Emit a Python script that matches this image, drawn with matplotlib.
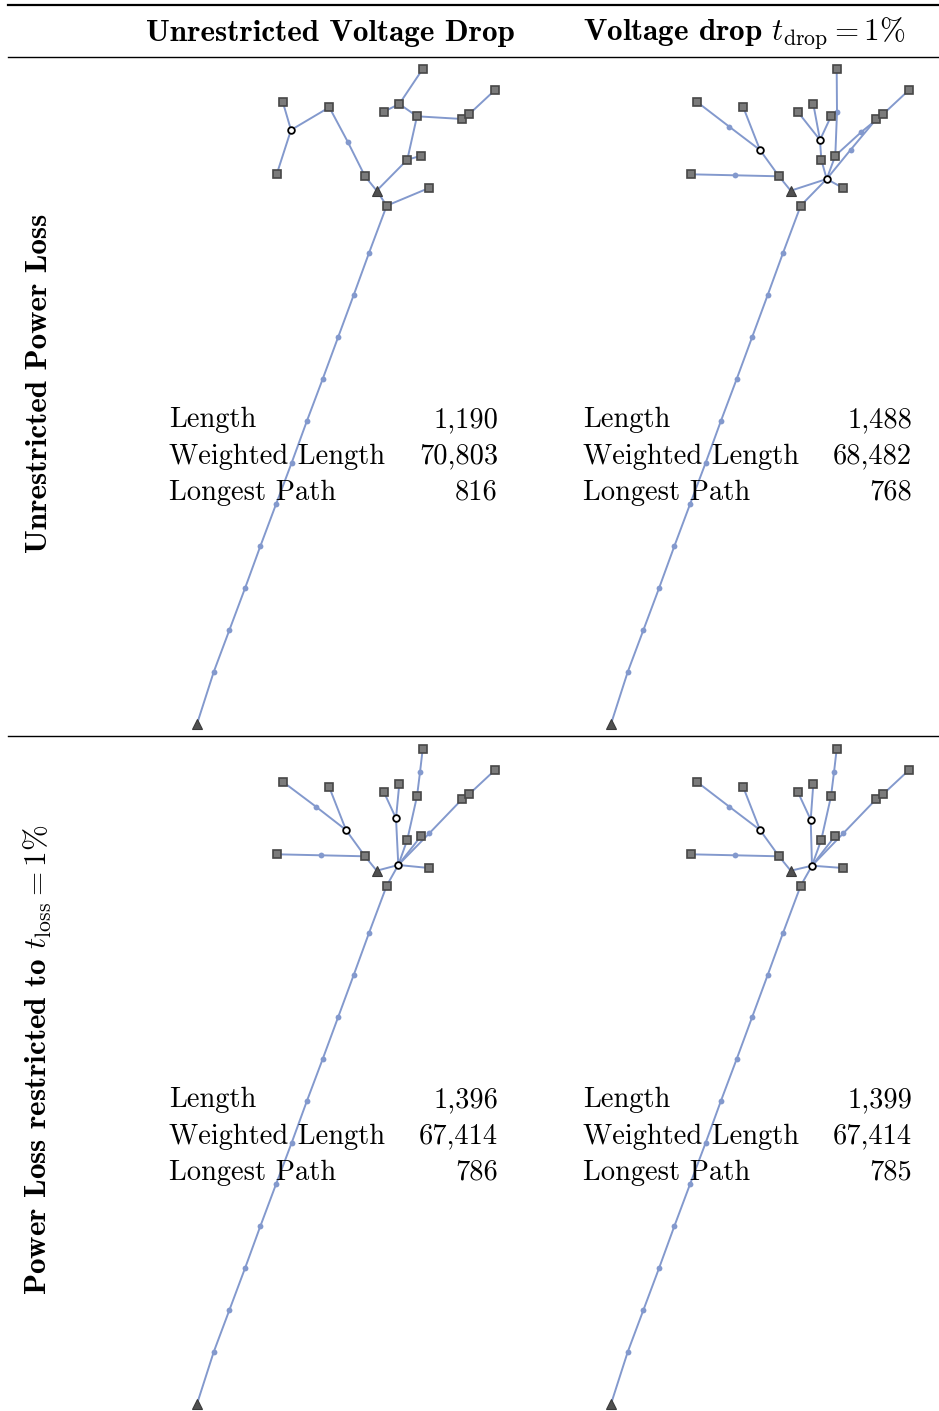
import matplotlib.pyplot as plt

plt.rcParams['mathtext.fontset'] = 'cm'

# consumer positions (map units, feeder root at 0,0), same in every layout
term_x = [225.7, 298.0, 85.7, 132.3, 202.3, 186.7, 220.0, 265.3, 272.3, 210.3, 224.3, 79.7, 168.0, 232.0, 189.7]
term_y = [655.0, 634.0, 622.3, 616.7, 620.0, 612.3, 607.7, 605.0, 610.0, 564.3, 568.3, 549.7, 547.7, 536.0, 518.3]
# sources: feeder root R and substation S
src_x = [0.0, 179.7]
src_y = [0.0, 533.3]
# joints along the long feeder, top to bottom
feeder_x = [172.0, 156.7, 141.3, 125.7, 110.0, 94.7, 79.0, 63.3, 48.0, 32.3, 16.7]
feeder_y = [471.0, 429.0, 387.3, 345.0, 303.3, 261.3, 219.7, 177.7, 135.7, 93.7, 52.0]

# steiner points (C*) and bend points (D*) per layout
ul_steiner = [(94.0, 594.0)]
ul_bends = [(150.7, 582.3)]
ul_paths = [['T0', 'T4', 'T5'], ['T4', 'T6', 'T7', 'T8', 'T1'], ['T6', 'T9', 'S'], ['T9', 'T10'],
            ['S', 'T12', 'D0', 'T3', 'C0', 'T2'], ['C0', 'T11'], ['S', 'T14', 'T13']]

ur_steiner = [(149.0, 574.0), (209.0, 584.0), (215.7, 545.0)]
ur_bends = [(118.3, 597.3), (226.0, 611.7), (250.0, 591.7), (239.7, 574.3), (124.0, 548.7)]
ur_paths = [['T2', 'D0', 'C0', 'T12', 'S', 'C2'], ['T3', 'C0'], ['T11', 'D4', 'T12'],
            ['T5', 'C1', 'T9', 'C2'], ['T4', 'C1'], ['T6', 'C1'], ['T0', 'D1', 'T10', 'C2'],
            ['T10', 'D2', 'T8', 'T1'], ['C2', 'D3', 'T7'], ['C2', 'T13'], ['C2', 'T14']]

ll_steiner = [(149.0, 574.0), (199.0, 585.7), (201.3, 539.0)]
ll_bends = [(119.0, 597.3), (223.0, 631.7), (232.3, 570.7), (124.0, 548.7)]
ll_paths = [['T2', 'D0', 'C0', 'T12', 'S', 'C2'], ['T3', 'C0'], ['T11', 'D3', 'T12'],
            ['T5', 'C1', 'C2'], ['T4', 'C1'], ['T0', 'D1', 'T6', 'T9', 'C2'], ['C2', 'T10'],
            ['C2', 'D2', 'T7', 'T8', 'T1'], ['C2', 'T13'], ['C2', 'T14']]

lr_steiner = [(149.0, 574.0), (199.7, 584.3), (201.0, 538.3)]
lr_bends = [(118.3, 597.3), (223.0, 631.7), (232.3, 570.7), (124.0, 548.7)]
lr_paths = ll_paths

metric_names = ['Length', 'Weighted Length', 'Longest Path']
ul_vals = [1190, 70803, 816]
ur_vals = [1488, 68482, 768]
ll_vals = [1396, 67414, 786]
lr_vals = [1399, 67414, 785]

col_titles = ['Unrestricted Voltage Drop', r'Voltage drop $t_{\mathrm{drop}} = 1\%$']
row_titles = ['Unrestricted Power Loss', r'Power Loss restricted to $t_{\mathrm{loss}} = 1\%$']

edge_c = '#8399cd'
W, H = 939, 1411

fig = plt.figure(figsize=(W / 100, H / 100), dpi=100)


def draw_net(ax, steiner, bends, paths):
    pos = {'R': (src_x[0], src_y[0]), 'S': (src_x[1], src_y[1])}
    for i in range(len(term_x)):
        pos['T%d' % i] = (term_x[i], term_y[i])
    for i in range(len(feeder_x)):
        pos['F%d' % i] = (feeder_x[i], feeder_y[i])
    for i, p in enumerate(steiner):
        pos['C%d' % i] = p
    for i, p in enumerate(bends):
        pos['D%d' % i] = p
    feeder = ['T14'] + ['F%d' % i for i in range(len(feeder_x))] + ['R']
    for path in paths + [feeder]:
        ax.plot([pos[n][0] for n in path], [pos[n][1] for n in path],
                color=edge_c, lw=1.4, zorder=1, solid_capstyle='round')
    ax.plot(feeder_x + [b[0] for b in bends], feeder_y + [b[1] for b in bends], 'o',
            color=edge_c, ms=4.2, mew=0, zorder=2)
    ax.plot(term_x, term_y, 's', mfc='#7b7b7b', mec='#474747', ms=5.8, mew=1.2, zorder=3)
    ax.plot(src_x, src_y, '^', mfc='#505050', mec='#3a3a3a', ms=7.2, mew=0.8, zorder=3)
    ax.plot([s[0] for s in steiner], [s[1] for s in steiner], 'o', mfc='white', mec='black',
            ms=4.8, mew=1.3, zorder=4)


layouts = [(0, 0, ul_steiner, ul_bends, ul_paths), (1, 0, ur_steiner, ur_bends, ur_paths),
           (0, 1, ll_steiner, ll_bends, ll_paths), (1, 1, lr_steiner, lr_bends, lr_paths)]
x0, x1, y0, y1 = -40, 320, -12, 672
for col, row, st, bd, pa in layouts:
    ox = 197 + 414 * col
    oy = 724 + 680 * row
    ax = fig.add_axes([(ox + x0) / W, 1 - (oy - y0) / H, (x1 - x0) / W, (y1 - y0) / H])
    ax.set_xlim(x0, x1)
    ax.set_ylim(y0, y1)
    ax.axis('off')
    draw_net(ax, st, bd, pa)

# table frame and text, in pixel coordinates
top = fig.add_axes([0, 0, 1, 1])
top.set_xlim(0, W)
top.set_ylim(H, 0)
top.axis('off')
top.plot([8, W], [4.5, 4.5], color='black', lw=1.6)
top.plot([8, W], [56.5, 56.5], color='black', lw=1.0)
top.plot([8, W], [735.7, 735.7], color='black', lw=1.0)

fs = 20.5
fb = 22.4
top.text(330, 41, col_titles[0], family='cmb10', fontsize=fb, ha='center', va='baseline')
top.text(744, 41, col_titles[1], family='cmb10', fontsize=fb, ha='center', va='baseline')
top.text(47, 383, row_titles[0], family='cmb10', fontsize=fb, ha='center', va='baseline',
         rotation=90, rotation_mode='anchor')
top.text(47, 1060, row_titles[1], family='cmb10', fontsize=fb, ha='center', va='baseline',
         rotation=90, rotation_mode='anchor')

vals = [ul_vals, ur_vals, ll_vals, lr_vals]
for k, (col, row, _, _, _) in enumerate(layouts):
    for j, name in enumerate(metric_names):
        yb = 427 + 36.5 * j + 680 * row
        top.text(169 + 414 * col, yb, name, family='cmr10', fontsize=fs, va='baseline', zorder=5)
        top.text(498 + 414 * col, yb, f'{vals[k][j]:,}', family='cmr10', fontsize=fs,
                 ha='right', va='baseline', zorder=5)

fig.savefig('out.png', dpi=100)
